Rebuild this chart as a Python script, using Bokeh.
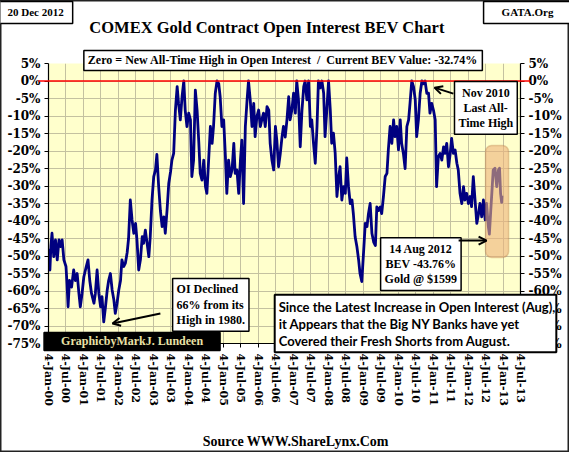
from bokeh.plotting import figure
from bokeh.models import (FixedTicker, LinearAxis, Label, Arrow, OpenHead,
                          BoxAnnotation, Range1d)
from bokeh.embed import file_html
from bokeh.resources import INLINE

# ---- data ----
years = [
    2000.00, 2000.01, 2000.04, 2000.07, 2000.10, 2000.15, 2000.20, 2000.25, 2000.30, 2000.34,
    2000.39, 2000.44, 2000.50, 2000.53, 2000.56, 2000.60, 2000.66, 2000.72, 2000.77, 2000.82,
    2000.87, 2000.91, 2000.96, 2001.01, 2001.08, 2001.13, 2001.18, 2001.23, 2001.30, 2001.34,
    2001.39, 2001.44, 2001.49, 2001.53, 2001.58, 2001.63, 2001.68, 2001.72, 2001.77, 2001.82,
    2001.87, 2001.91, 2001.96, 2002.01, 2002.06, 2002.10, 2002.15, 2002.20, 2002.25, 2002.29,
    2002.34, 2002.39, 2002.44, 2002.49, 2002.53, 2002.58, 2002.63, 2002.68, 2002.72, 2002.77,
    2002.82, 2002.87, 2002.91, 2002.96, 2003.01, 2003.06, 2003.10, 2003.15, 2003.20, 2003.25,
    2003.30, 2003.34, 2003.39, 2003.44, 2003.49, 2003.53, 2003.58, 2003.63, 2003.68, 2003.72,
    2003.77, 2003.82, 2003.87, 2003.91, 2003.96, 2004.01, 2004.06, 2004.10, 2004.15, 2004.20,
    2004.25, 2004.30, 2004.34, 2004.39, 2004.44, 2004.49, 2004.53, 2004.58, 2004.63, 2004.68,
    2004.72, 2004.77, 2004.82, 2004.87, 2004.91, 2004.96, 2005.01, 2005.06, 2005.10, 2005.15,
    2005.20, 2005.25, 2005.30, 2005.34, 2005.39, 2005.44, 2005.49, 2005.53, 2005.58, 2005.63,
    2005.68, 2005.72, 2005.77, 2005.82, 2005.87, 2005.91, 2005.96, 2006.01, 2006.06, 2006.10,
    2006.15, 2006.20, 2006.25, 2006.30, 2006.34, 2006.39, 2006.44, 2006.49, 2006.53, 2006.58,
    2006.63, 2006.68, 2006.72, 2006.77, 2006.82, 2006.87, 2006.91, 2006.96, 2007.01, 2007.06,
    2007.10, 2007.15, 2007.20, 2007.25, 2007.30, 2007.34, 2007.39, 2007.44, 2007.49, 2007.53,
    2007.58, 2007.63, 2007.68, 2007.72, 2007.77, 2007.82, 2007.87, 2007.91, 2007.96, 2008.01,
    2008.06, 2008.10, 2008.15, 2008.20, 2008.25, 2008.30, 2008.34, 2008.39, 2008.44, 2008.49,
    2008.53, 2008.58, 2008.63, 2008.68, 2008.72, 2008.77, 2008.82, 2008.87, 2008.91, 2008.96,
    2009.01, 2009.06, 2009.11, 2009.15, 2009.20, 2009.25, 2009.30, 2009.35, 2009.39, 2009.44,
    2009.49, 2009.53, 2009.58, 2009.63, 2009.68, 2009.72, 2009.77, 2009.82, 2009.87, 2009.91,
    2009.96, 2010.01, 2010.06, 2010.10, 2010.15, 2010.20, 2010.25, 2010.30, 2010.34, 2010.39,
    2010.44, 2010.49, 2010.53, 2010.58, 2010.63, 2010.68, 2010.72, 2010.77, 2010.82, 2010.87,
    2010.91, 2010.96, 2011.01, 2011.06, 2011.10, 2011.15, 2011.20, 2011.25, 2011.30, 2011.34,
    2011.39, 2011.44, 2011.49, 2011.53, 2011.58, 2011.63, 2011.68, 2011.72, 2011.77, 2011.82,
    2011.87, 2011.91, 2011.96, 2012.01, 2012.06, 2012.10, 2012.15, 2012.20, 2012.25, 2012.30,
    2012.34, 2012.39, 2012.44, 2012.49, 2012.53, 2012.58, 2012.61, 2012.65, 2012.68, 2012.72,
    2012.77, 2012.82, 2012.87, 2012.90, 2012.93, 2012.96, 2012.97,
]
bev = [
    -53.0, -48.3, -54.0, -47.0, -43.5, -50.2, -45.4, -51.1, -45.4, -47.3,
    -45.4, -51.1, -53.0, -58.0, -64.5, -57.0, -58.9, -54.0, -57.0, -55.0,
    -60.7, -64.5, -60.7, -56.0, -53.0, -51.1, -57.0, -60.7, -63.5, -60.7,
    -54.0, -60.7, -64.5, -61.6, -68.8, -64.5, -59.7, -57.0, -55.0, -59.7,
    -62.6, -66.4, -63.5, -59.7, -57.0, -51.1, -53.0, -52.0, -49.0, -45.0,
    -34.0, -39.7, -43.5, -40.7, -45.4, -54.0, -51.0, -44.5, -46.4, -42.6,
    -46.4, -50.2, -44.5, -34.0, -27.3, -25.4, -21.0, -30.0, -37.0, -41.6,
    -38.8, -43.5, -37.0, -29.2, -26.0, -22.6, -20.7, -8.3, -1.6, -6.4,
    -11.1, -4.5, 0.0, -8.3, -13.0, -9.2, -11.1, -27.3, -22.6, -2.6,
    -8.3, -17.8, -26.4, -28.3, -22.6, -30.2, -32.1, -22.6, -13.0, -17.8,
    -13.0, -3.5, 0.0, -0.8, -4.5, -13.0, -11.1, -21.6, -32.1, -22.6,
    -27.3, -25.4, -17.8, -26.4, -25.4, -32.1, -22.6, -16.9, -35.0, -13.0,
    -5.4, 0.0, -5.4, -13.0, -6.4, -15.9, -10.2, -8.3, -13.0, -11.1,
    -9.2, -13.0, -7.3, -8.3, -17.8, -22.6, -25.4, -13.0, -16.9, -24.5,
    -20.7, -15.9, -13.0, -16.0, -11.1, -4.5, -11.1, -8.3, -3.5, -9.2,
    0.0, -5.4, -18.8, -8.3, -1.6, 0.0, -5.4, 0.0, -13.0, -11.1,
    -17.8, -23.5, -13.0, 0.0, -2.0, 0.0, -3.5, -15.9, -8.3, 0.0,
    -8.3, -17.8, -14.9, -20.7, -33.0, -27.3, -24.5, -34.0, -30.2, -32.1,
    -22.0, -30.2, -35.0, -34.0, -38.0, -44.5, -47.3, -51.1, -55.0, -57.3,
    -49.2, -40.7, -41.6, -38.0, -35.0, -43.5, -46.0, -47.0, -36.0, -37.0,
    -36.0, -37.9, -33.0, -27.3, -26.4, -19.7, -13.0, -17.8, -11.1, -15.9,
    -13.0, -19.7, -11.1, -17.8, -20.7, -25.0, -13.0, -11.1, -6.4, 0.0,
    -1.6, -5.4, -15.9, -11.1, -3.5, 0.0, -0.8, 0.0, -3.5, -3.5,
    -9.2, -6.4, -8.3, -11.1, -30.2, -21.6, -20.7, -22.6, -18.8, -20.7,
    -17.8, -24.5, -20.7, -16.4, -20.7, -19.7, -23.5, -25.4, -32.1, -35.0,
    -30.2, -34.0, -32.1, -35.0, -33.0, -35.9, -27.3, -34.0, -40.7, -37.9,
    -35.0, -38.8, -34.0, -39.7, -35.0, -41.6, -43.76, -36.9, -32.1, -25.4,
    -24.9, -30.2, -25.4, -24.9, -32.1, -34.7, -32.74,
]

x_ticks = [2000.0, 2000.5, 2001.0, 2001.5, 2002.0, 2002.5, 2003.0, 2003.5, 2004.0, 2004.5,
           2005.0, 2005.5, 2006.0, 2006.5, 2007.0, 2007.5, 2008.0, 2008.5, 2009.0, 2009.5,
           2010.0, 2010.5, 2011.0, 2011.5, 2012.0, 2012.5, 2013.0, 2013.5]
x_tick_labels = ["4-Jan-00", "4-Jul-00", "4-Jan-01", "4-Jul-01", "4-Jan-02", "4-Jul-02",
                 "4-Jan-03", "4-Jul-03", "4-Jan-04", "4-Jul-04", "4-Jan-05", "4-Jul-05",
                 "4-Jan-06", "4-Jul-06", "4-Jan-07", "4-Jul-07", "4-Jan-08", "4-Jul-08",
                 "4-Jan-09", "4-Jul-09", "4-Jan-10", "4-Jul-10", "4-Jan-11", "4-Jul-11",
                 "4-Jan-12", "4-Jul-12", "4-Jan-13", "4-Jul-13"]
y_ticks = [5, 0, -5, -10, -15, -20, -25, -30, -35, -40, -45, -50, -55, -60, -65, -70, -75]
y_tick_labels = ["5%", "0%", "-5%", "-10%", "-15%", "-20%", "-25%", "-30%", "-35%", "-40%",
                 "-45%", "-50%", "-55%", "-60%", "-65%", "-70%", "-75%"]

SERIF = "Liberation Serif"
TICKF = "DejaVu Serif"

# page geometry
W, H = 569, 452
ML, MR, MT, MB = 48, 49, 63, 109
X0, X1, Y0, Y1 = 2000.0, 2013.5, -75.0, 5.0


def key(t):
    return int(t) if float(t).is_integer() else t


x_over = {key(t): s for t, s in zip(x_ticks, x_tick_labels)}
y_over = {key(t): s for t, s in zip(y_ticks, y_tick_labels)}

p = figure(width=W, height=H, x_range=Range1d(X0, X1), y_range=Range1d(Y0, Y1),
           output_backend="svg", toolbar_location=None,
           background_fill_color="#FFFFCC", border_fill_color="white",
           outline_line_color=None,
           min_border_left=ML, min_border_right=MR, min_border_top=MT, min_border_bottom=MB)

p.xgrid.ticker = FixedTicker(ticks=x_ticks)
p.ygrid.ticker = FixedTicker(ticks=y_ticks)
p.grid.grid_line_color = "#C4C1A0"
p.grid.grid_line_width = 1

p.xaxis.ticker = FixedTicker(ticks=x_ticks)
p.xaxis.major_label_overrides = x_over
p.xaxis.major_label_orientation = "vertical"
p.yaxis.ticker = FixedTicker(ticks=y_ticks)
p.yaxis.major_label_overrides = y_over
ra = LinearAxis(ticker=FixedTicker(ticks=y_ticks), major_label_overrides=y_over)
p.add_layout(ra, "right")
for ax in [p.xaxis[0], p.yaxis[0], ra]:
    ax.axis_line_color = "black"
    ax.axis_line_width = 1.2
    ax.major_tick_line_color = "black"
    ax.major_tick_in = 0
    ax.major_tick_out = 4
    ax.minor_tick_line_color = None
    ax.major_label_text_font = TICKF
    ax.major_label_text_font_style = "bold"
    ax.major_label_text_font_size = "12px"
    ax.major_label_text_color = "black"
    ax.major_label_standoff = 5
p.yaxis.major_label_standoff = 4
p.xaxis.major_label_text_font_size = "11px"
p.xaxis.major_label_standoff = 6

# series
p.line(years, bev, line_color="#000080", line_width=2.8, line_join="round")

# highlight box
p.add_layout(BoxAnnotation(left=2012.50, right=2013.16, top=-18.4, bottom=-50.4,
                           fill_color="#EDB27A", fill_alpha=0.6,
                           line_color="#B0703A", line_width=1.5, border_radius=6))

# ---- transparent overlay page with the same data mapping, covering the whole canvas ----
kx = (W - ML - MR) / (X1 - X0)
ky = (H - MT - MB) / (Y1 - Y0)
page = figure(width=W, height=H,
              x_range=Range1d(X0 - ML / kx, X1 + MR / kx),
              y_range=Range1d(Y0 - MB / ky, Y1 + MT / ky),
              output_backend="svg", toolbar_location=None,
              x_axis_type=None, y_axis_type=None, min_border=0,
              background_fill_alpha=0, border_fill_alpha=0,
              outline_line_color="#222222", outline_line_width=2)
page.stylesheets = [":host { position: absolute !important; left: 0px !important; "
                    "top: 0px !important; z-index: 5; }"]


def box(x, y, text, size="12px", align="center", baseline="middle", font=SERIF,
        color="black", bg="white", border="black", bw=1.5, pad=None, lh=1.1):
    lab = Label(x=x, y=y, text=text, text_align=align, text_baseline=baseline,
                text_font=font, text_font_style="bold", text_font_size=size,
                text_color=color, text_line_height=lh)
    if bg is not None:
        lab.background_fill_color = bg
    if border is not None:
        lab.border_line_color = border
        lab.border_line_width = bw
    if pad is not None:
        lab.padding = pad
    page.add_layout(lab)


def arrow(x0, y0, x1, y1):
    page.add_layout(Arrow(x_start=x0, y_start=y0, x_end=x1, y_end=y1,
                          end=OpenHead(size=8, line_width=2, line_color="black"),
                          line_color="black", line_width=2))


# zero line (all-time high), running out to the tick labels
page.add_layout(Arrow(x_start=1999.71, y_start=0, x_end=2013.79, y_end=0, end=None,
                      line_color="red", line_width=1.5))

# header
box(2006.25, 15.4, "COMEX Gold Contract Open Interest BEV Chart", size="16.5px",
    baseline="alphabetic", bg=None, border=None)
box(1999.63, 19.6, "20 Dec 2012", size="11px",
    pad=dict(left=9, right=9, top=5, bottom=5))
box(2013.70, 19.6, "GATA.Org", size="11px",
    pad=dict(left=18, right=18, top=5, bottom=5))
box(2006.71, 5.86,
    "Zero = New All-Time High in Open Interest\u00a0 /\u00a0 Current BEV Value: -32.74%",
    size="12px", pad=dict(left=4, right=4, top=3, bottom=3))

# annotations
box(2012.51, -7.7, "Nov 2010\nLast All-\nTime High", pad=4)
arrow(2011.58, -3.6, 2011.04, -1.9)

box(2010.65, -52.3, "14 Aug 2012\nBEV -43.76%\nGold @ $1599", pad=4)
arrow(2011.73, -45.6, 2012.53, -45.6)

box(2003.55, -56.4, "OI Declined\n66% from its\nHigh in 1980.", align="left",
    baseline="top", pad=4)
arrow(2003.20, -66.4, 2001.83, -69.3)

box(2006.47, -61.05,
    "Since the Latest Increase in Open Interest (Aug),\nit Appears that the Big NY Banks have yet\nCovered their Fresh Shorts from August.",
    size="13px", align="left", baseline="top", font="'Liberation Sans Narrow', Lato",
    bw=2, pad=dict(left=4, right=1, top=4, bottom=3), lh=1.08)

box(2002.39, -74.4, "GraphicbyMarkJ. Lundeen", size="12px", color="#E9E1A6",
    bg="black", border="black", pad=dict(left=17, right=17, top=2, bottom=2))

# footer
box(2007.07, -103.0, "Source WWW.ShareLynx.Com", size="14px", baseline="alphabetic",
    bg=None, border=None)

open("out.html", "w").write(file_html([p, page], INLINE))
